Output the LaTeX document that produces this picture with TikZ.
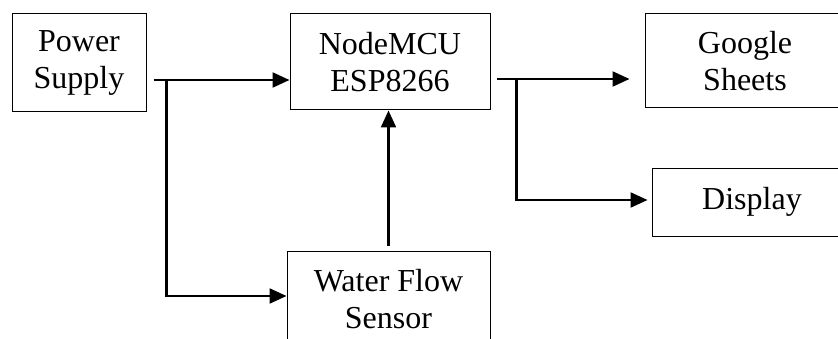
\documentclass[tikz,border=0pt]{standalone}
\usepackage{fontspec}
\setmainfont{Liberation Serif}
\usetikzlibrary{arrows.meta, positioning, calc}

\tikzset{
  block/.style={draw, line width=1pt, align=center, inner sep=0pt, font=\fontsize{32}{37}\selectfont},
  flow/.style={line width=2.3pt, -{Triangle[length=17pt, width=15pt]}}
}

\begin{document}
\begin{tikzpicture}[x=1pt, y=1pt]
  \useasboundingbox (0,0) rectangle (838,338);
  \clip (0,0) rectangle (838,338);

  % blocks
  \node[block, minimum width=134pt, minimum height=98pt] (power) at (79,275) {Power\\Supply};
  \node[block, minimum width=200pt, minimum height=96pt] (mcu) at (390,276) {NodeMCU\\ESP8266};
  \node[block, minimum width=203pt, minimum height=96pt] (sensor) at (388.5,39) {Water Flow\\Sensor};
  \node[block, minimum width=200pt, minimum height=94pt] (sheets) at (745,277) {Google\\Sheets};
  \node[block, minimum width=200pt, minimum height=68pt] (display) at (752,136) {Display};

  % power lines
  \coordinate (ps) at ($(power.east)+(7,-17)$);
  \coordinate (psj) at ($(ps)+(13,0)$);
  \draw[flow] (ps) -- (ps -| mcu.west);
  \draw[flow] (psj) |- ($(sensor.west)+(0,3)$);

  % sensor to controller
  \draw[flow] ($(sensor.north)+(0,5)$) -- (sensor.north |- mcu.south);

  % controller outputs
  \coordinate (mo) at ($(mcu.east)+(6,-17)$);
  \coordinate (moj) at ($(mo)+(20,0)$);
  \draw[flow] (mo) -- ($(mo -| sheets.west)+(-15,0)$);
  \draw[flow] (moj) |- ($(display.west)+(-4,2)$);
\end{tikzpicture}
\end{document}
